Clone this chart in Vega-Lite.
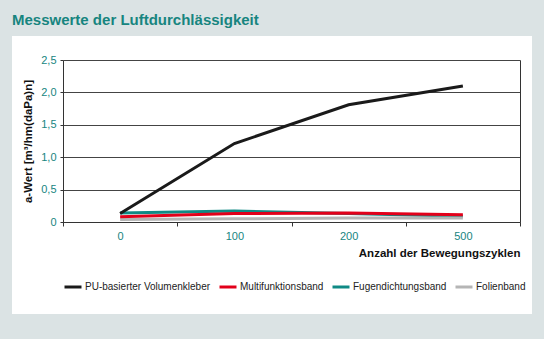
{
  "$schema": "https://vega.github.io/schema/vega-lite/v6.json",
  "width": 520,
  "height": 278,
  "autosize": {"type": "none"},
  "padding": {"left": 12, "top": 36, "right": 12, "bottom": 25},
  "background": "#dbe3e4",
  "config": {
    "view": {"fill": "white", "stroke": null},
    "font": "Liberation Sans, Arial, sans-serif"
  },
  "title": {
    "text": "Messwerte der Luftdurchlässigkeit",
    "anchor": "start",
    "frame": "group",
    "fontSize": 15,
    "fontWeight": "bold",
    "color": "#17857f",
    "offset": 8
  },
  "data": {
    "values": [
      {"zyklen": "0", "serie": "PU-basierter Volumenkleber", "wert": 0.13},
      {"zyklen": "100", "serie": "PU-basierter Volumenkleber", "wert": 1.21},
      {"zyklen": "200", "serie": "PU-basierter Volumenkleber", "wert": 1.81},
      {"zyklen": "500", "serie": "PU-basierter Volumenkleber", "wert": 2.1},
      {"zyklen": "0", "serie": "Multifunktionsband", "wert": 0.08},
      {"zyklen": "100", "serie": "Multifunktionsband", "wert": 0.13},
      {"zyklen": "200", "serie": "Multifunktionsband", "wert": 0.14},
      {"zyklen": "500", "serie": "Multifunktionsband", "wert": 0.11},
      {"zyklen": "0", "serie": "Fugendichtungsband", "wert": 0.14},
      {"zyklen": "100", "serie": "Fugendichtungsband", "wert": 0.17},
      {"zyklen": "200", "serie": "Fugendichtungsband", "wert": 0.13},
      {"zyklen": "500", "serie": "Fugendichtungsband", "wert": 0.09},
      {"zyklen": "0", "serie": "Folienband", "wert": 0.04},
      {"zyklen": "100", "serie": "Folienband", "wert": 0.05},
      {"zyklen": "200", "serie": "Folienband", "wert": 0.06},
      {"zyklen": "500", "serie": "Folienband", "wert": 0.06}
    ]
  },
  "encoding": {
    "x": {
      "field": "zyklen",
      "type": "ordinal",
      "sort": ["0", "100", "200", "500"],
      "bandPosition": 0.5,
      "scale": {"type": "band", "range": [51, 508], "paddingInner": 0, "paddingOuter": 0},
      "axis": {
        "orient": "bottom",
        "offset": -92,
        "title": "Anzahl der Bewegungszyklen",
        "titleAnchor": "end",
        "titleFontSize": 11.5,
        "titleFontWeight": "bold",
        "titleColor": "#111111",
        "titlePadding": 6,
        "labelAngle": 0,
        "labelFontSize": 11,
        "labelColor": "#17857f",
        "labelPadding": 4,
        "tickBand": "extent",
        "ticks": true,
        "tickSize": 4,
        "tickColor": "#333333",
        "domainColor": "#333333",
        "grid": false
      }
    },
    "color": {
      "field": "serie",
      "type": "nominal",
      "scale": {
        "domain": ["PU-basierter Volumenkleber", "Multifunktionsband", "Fugendichtungsband", "Folienband"],
        "range": ["#1a1a1a", "#e2001a", "#0f8a85", "#b5b5b5"]
      },
      "legend": {
        "title": null,
        "orient": "none",
        "direction": "horizontal",
        "columns": 4,
        "gridAlign": "none",
        "legendX": 51,
        "legendY": 241,
        "padding": 0,
        "symbolType": "stroke",
        "symbolSize": 289,
        "symbolStrokeWidth": 3,
        "labelOffset": 2,
        "columnPadding": 2,
        "labelFontSize": 10,
        "labelColor": "#222222",
        "labelLimit": 300
      }
    }
  },
  "layer": [
    {
      "transform": [{"filter": "datum.serie == 'Fugendichtungsband' || datum.serie == 'Folienband'"}],
      "mark": {"type": "line", "strokeWidth": 3},
      "encoding": {
        "y": {
          "field": "wert",
          "type": "quantitative",
          "scale": {"domain": [0, 2.5], "range": [186, 24], "nice": false},
          "axis": {
            "orient": "left",
            "offset": -51,
            "values": [0, 0.5, 1, 1.5, 2, 2.5],
            "labelExpr": "datum.value == 0 ? '0' : replace(format(datum.value, '.1f'), '.', ',')",
            "labelFontSize": 11,
            "labelColor": "#17857f",
            "labelPadding": 4,
            "ticks": true,
            "tickSize": 3,
            "tickColor": "#333333",
            "domainColor": "#333333",
            "grid": true,
            "gridColor": "#444444",
            "gridWidth": 1,
            "title": "a-Wert [m³/hm(daPa)n]",
            "titleFontSize": 11.5,
            "titleFontWeight": "bold",
            "titleColor": "#111111",
            "titlePadding": 7
          }
        }
      }
    },
    {
      "transform": [{"filter": "datum.serie == 'PU-basierter Volumenkleber' || datum.serie == 'Multifunktionsband'"}],
      "mark": {"type": "line", "strokeWidth": 3},
      "encoding": {
        "y": {
          "field": "wert",
          "type": "quantitative",
          "scale": {"domain": [0, 2.5], "range": [186, 24], "nice": false},
          "axis": {
            "orient": "right",
            "offset": -12,
            "labels": false,
            "ticks": false,
            "grid": false,
            "domain": true,
            "domainColor": "#333333",
            "title": null
          }
        }
      }
    }
  ],
  "resolve": {"axis": {"y": "independent"}}
}
